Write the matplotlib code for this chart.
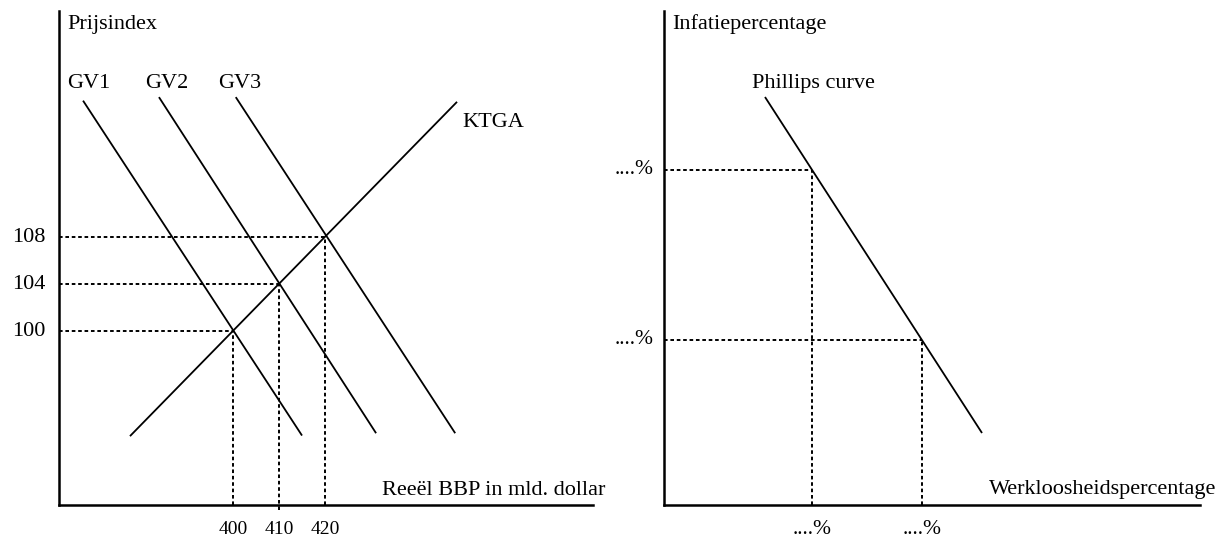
import matplotlib
matplotlib.use("Agg")
import matplotlib.pyplot as plt

plt.rcParams['font.family'] = ['Liberation Serif', 'DejaVu Serif']
plt.rcParams['lines.scale_dashes'] = False

# ---------------- data: left panel (AD/AS) ----------------
ktga_x = [377.6, 448.7]
ktga_y = [91.05, 119.5]
gv1_x = [367.4, 415.0]
gv1_y = [119.6, 91.1]
gv2_x = [383.9, 431.1]
gv2_y = [119.9, 91.3]
gv3_x = [400.6, 448.3]
gv3_y = [119.9, 91.3]
eq_x = [400, 410, 420]
eq_y = [100, 104, 108]
x_ticklabels = ["400", "410", "420"]
y_ticklabels = ["100", "104", "108"]
gv_names = ["GV1", "GV2", "GV3"]

# ---------------- data: right panel (Phillips) ----------------
ph_x = [10.1, 31.8]
ph_y = [40.8, 7.2]
ph_pts_x = [14.8, 25.8]
ph_pts_y = [33.5, 16.5]
ph_labels = ["....%", "....%"]

W, H = 1225, 539
fig = plt.figure(figsize=(W / 100, H / 100), dpi=100)

def px_axes(x0, x1, y0, y1):
    return fig.add_axes([x0 / W, 1 - y1 / H, (x1 - x0) / W, (y1 - y0) / H])

def ptext(x, y, s, **kw):
    kw.setdefault("va", "baseline")
    kw.setdefault("ha", "left")
    fig.text(x / W, 1 - y / H, s, **kw)

lw_curve = 1.3
lw_axis = 1.8
lw_dash = 1.4
dash = (0, (2.6, 2.0))
fs = 16

# ---------- left ----------
ax = px_axes(59, 593, 11, 505)
ax.set_xlim(362.17, 478.26)
ax.set_ylim(85.19, 127.23)
for s in ["top", "right"]:
    ax.spines[s].set_visible(False)
for s in ["left", "bottom"]:
    ax.spines[s].set_linewidth(lw_axis)
ax.set_xticks([])
ax.set_yticks([])
ax.patch.set_alpha(0)

ax.plot(ktga_x, ktga_y, color="black", lw=lw_curve, solid_capstyle="butt")
for gx, gy in [(gv1_x, gv1_y), (gv2_x, gv2_y), (gv3_x, gv3_y)]:
    ax.plot(gx, gy, color="black", lw=lw_curve, solid_capstyle="butt")

ymin = ax.get_ylim()[0]
xmin = ax.get_xlim()[0]
for i, (ex, ey) in enumerate(zip(eq_x, eq_y)):
    ax.plot([xmin, ex], [ey, ey], color="black", lw=lw_dash, linestyle=dash)
    bottom = ymin - (0.45 if i == 1 else 0)
    ax.plot([ex, ex], [bottom, ey], color="black", lw=lw_dash, linestyle=dash, clip_on=False)
    ax.text(ex, ymin - 2.05, x_ticklabels[i], ha="center", va="center", fontsize=14)
    ax.text(xmin - 2.9, ey - 0.05, y_ticklabels[i], ha="right", va="center", fontsize=fs)

ptext(67, 29, "Prijsindex", fontsize=fs)
for name, xs in zip(gv_names, [67, 145, 218]):
    ptext(xs, 88, name, fontsize=fs)
ptext(462, 127, "KTGA", fontsize=fs)
ptext(382, 495, "Reeël BBP in mld. dollar", fontsize=fs)

# ---------- right ----------
ax2 = px_axes(664, 1200, 11, 505)
ax2.set_xlim(0, 53.6)
ax2.set_ylim(0, 49.4)
for s in ["top", "right"]:
    ax2.spines[s].set_visible(False)
for s in ["left", "bottom"]:
    ax2.spines[s].set_linewidth(lw_axis)
ax2.set_xticks([])
ax2.set_yticks([])
ax2.patch.set_alpha(0)

ax2.plot(ph_x, ph_y, color="black", lw=lw_curve, solid_capstyle="butt")
for i, (px, py) in enumerate(zip(ph_pts_x, ph_pts_y)):
    ax2.plot([0, px], [py, py], color="black", lw=lw_dash, linestyle=dash)
    ax2.plot([px, px], [0, py], color="black", lw=lw_dash, linestyle=dash)
    ax2.text(px, -2.5, ph_labels[i], ha="center", va="center", fontsize=15.5)
    ax2.text(-1.0, py + 0.1, ph_labels[i], ha="right", va="center", fontsize=15.5)

ptext(672, 29, "Infatiepercentage", fontsize=fs)
ptext(752, 88, "Phillips curve", fontsize=fs)
ptext(989, 494, "Werkloosheidspercentage", fontsize=fs)

fig.savefig("out.png", dpi=100)
